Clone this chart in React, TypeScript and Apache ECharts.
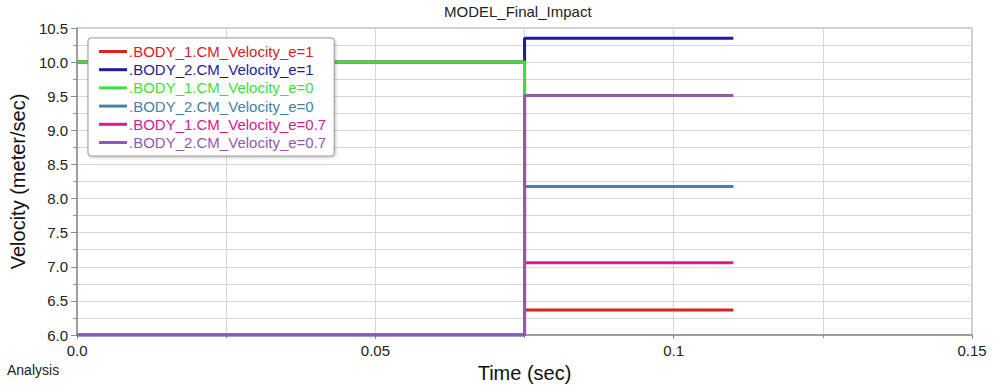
import React, { useEffect, useRef } from "react";
import * as echarts from "echarts";

const times = [0, 0.075, 0.075, 0.11];
const body1E1 = [10, 10, 6.365, 6.365];
const body2E1 = [6, 6, 10.35, 10.35];
const body1E0 = [10, 10, 8.175, 8.175];
const body2E0 = [6, 6, 8.175, 8.175];
const body1E07 = [10, 10, 7.06, 7.06];
const body2E07 = [6, 6, 9.51, 9.51];

const seriesNames = [
  ".BODY_1.CM_Velocity_e=1",
  ".BODY_2.CM_Velocity_e=1",
  ".BODY_1.CM_Velocity_e=0",
  ".BODY_2.CM_Velocity_e=0",
  ".BODY_1.CM_Velocity_e=0.7",
  ".BODY_2.CM_Velocity_e=0.7",
];
const seriesValues = [body1E1, body2E1, body1E0, body2E0, body1E07, body2E07];
const seriesColors = ["#dd2020", "#1c1c9e", "#3ee03e", "#4582a6", "#d4208e", "#9458b4"];
const seriesZ = [2, 2, 3, 3, 2, 4];

const FONT = 'Arial, "Liberation Sans", sans-serif';

export default function App() {
  const ref = useRef<HTMLDivElement>(null);
  useEffect(() => {
    if (!ref.current) return;
    const chart = echarts.init(ref.current, null, { renderer: "svg" });
    chart.setOption({
      animation: false,
      backgroundColor: "#ffffff",
      textStyle: { fontFamily: FONT },
      title: {
        text: "MODEL_Final_Impact",
        left: 444,
        top: 4,
        padding: 0,
        textStyle: { fontSize: 15, fontWeight: "normal", color: "#222", fontFamily: FONT },
      },
      graphic: [
        {
          type: "text",
          left: 7,
          top: 363,
          style: { text: "Analysis", fontSize: 14, fill: "#222", fontFamily: FONT },
        },
      ],
      legend: {
        orient: "vertical",
        left: 88,
        top: 38,
        padding: [6, 8, 6, 11],
        itemGap: 3.2,
        itemWidth: 28,
        itemHeight: 3,
        icon: "rect",
        backgroundColor: "#ffffff",
        borderColor: "#999",
        borderWidth: 1,
        borderRadius: 3,
        shadowColor: "rgba(0,0,0,0.25)",
        shadowBlur: 3,
        shadowOffsetX: 1,
        shadowOffsetY: 1,
        textStyle: { fontSize: 15, lineHeight: 14, fontFamily: FONT, padding: [0, 0, 0, -3] },
        data: seriesNames.map((n, i) => ({ name: n, textStyle: { color: seriesColors[i] } })),
      },
      grid: {
        left: 71,
        right: 25,
        top: 28,
        bottom: 54,
        show: true,
        borderColor: "#9a9a9a",
        borderWidth: 1,
        backgroundColor: "transparent",
      },
      xAxis: {
        type: "value",
        min: 0,
        max: 0.15,
        interval: 0.05,
        name: "Time (sec)",
        nameLocation: "middle",
        nameGap: 27,
        nameTextStyle: { fontSize: 20, color: "#111", fontFamily: FONT },
        axisLine: { show: true, lineStyle: { color: "#8a8a8a", width: 1.5 } },
        axisTick: { show: true, length: 4, lineStyle: { color: "#8a8a8a" } },
        minorTick: { show: true, splitNumber: 2, length: 3, lineStyle: { color: "#8a8a8a" } },
        axisLabel: {
          fontSize: 15,
          color: "#222",
          margin: 8,
          fontFamily: FONT,
          formatter: (v: number) => (v === 0 ? "0.0" : String(parseFloat(v.toFixed(3)))),
        },
        splitLine: { show: true, lineStyle: { color: "#d6d6d6", width: 1 } },
        minorSplitLine: { show: true, lineStyle: { color: "#d6d6d6", width: 1 } },
      },
      yAxis: {
        type: "value",
        min: 6,
        max: 10.5,
        interval: 0.5,
        name: "Velocity (meter/sec)",
        nameLocation: "middle",
        nameGap: 41,
        nameTextStyle: { fontSize: 20, color: "#111", fontFamily: FONT },
        axisLine: { show: true, lineStyle: { color: "#8a8a8a", width: 1.5 } },
        axisTick: { show: true, length: 6, lineStyle: { color: "#8a8a8a" } },
        minorTick: { show: true, splitNumber: 2, length: 4, lineStyle: { color: "#8a8a8a" } },
        axisLabel: {
          fontSize: 15,
          color: "#222",
          margin: 9,
          fontFamily: FONT,
          formatter: (v: number) => v.toFixed(1),
        },
        splitLine: { show: true, lineStyle: { color: "#d6d6d6", width: 1 } },
        minorSplitLine: { show: true, lineStyle: { color: "#d6d6d6", width: 1 } },
      },
      series: seriesNames.map((name, i) => ({
        name,
        type: "line",
        z: seriesZ[i],
        showSymbol: false,
        symbol: "none",
        color: seriesColors[i],
        lineStyle: { width: 3, color: seriesColors[i] },
        data: times.map((t, k) => [t, seriesValues[i][k]]),
      })),
    });
    return () => chart.dispose();
  }, []);
  return (
    <div
      ref={ref}
      style={{ position: "fixed", left: 0, top: 0, width: 997, height: 389 }}
    />
  );
}
